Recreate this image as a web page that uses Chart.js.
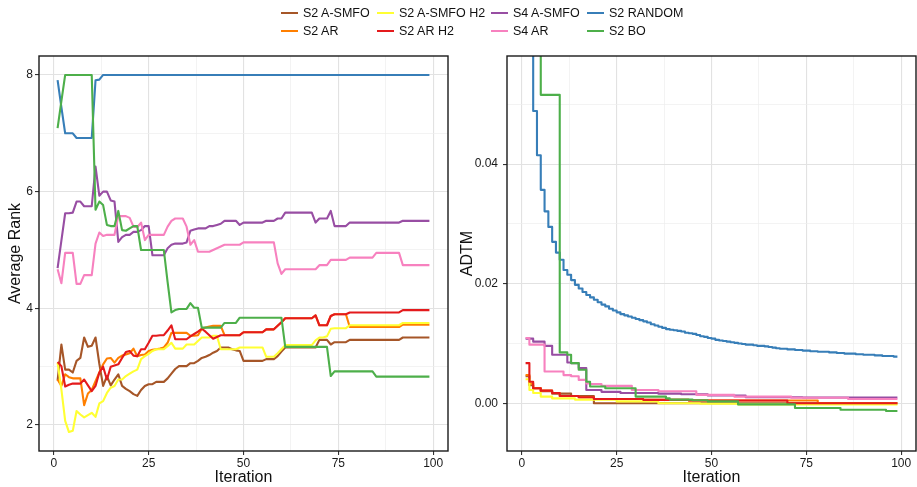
<!DOCTYPE html>
<html>
<head>
<meta charset="utf-8">
<script src="https://cdn.jsdelivr.net/npm/chart.js@4.4.1/dist/chart.umd.min.js"></script>
<style>
  body { margin: 0; background: #fff; font-family: "Liberation Sans", Arial, Helvetica, sans-serif; }
  #wrap { position: relative; width: 917px; height: 487px; overflow: hidden; }
  .panel { position: absolute; top: 0; height: 487px; }
  #legend { position: absolute; left: 0; top: 0; width: 917px; height: 44px; }
  .key { position: absolute; height: 2px; width: 17px; }
  .lab { position: absolute; font-size: 12.5px; color: #111; line-height: 14px; white-space: nowrap; }
</style>
</head>
<body>
<div id="wrap">
  <div class="panel" style="left:0;width:458px"><canvas id="rankChart"></canvas></div>
  <div class="panel" style="left:458px;width:459px"><canvas id="adtmChart"></canvas></div>
  <div id="legend"></div>
</div>
<script>
// Series (legend order, filled by column)
const seriesNames = ["S2 A-SMFO", "S2 AR", "S2 A-SMFO H2", "S2 AR H2", "S4 A-SMFO", "S4 AR", "S2 RANDOM", "S2 BO"];
const seriesColors = ["#A65628", "#FF7F00", "#FFFF33", "#E41A1C", "#984EA3", "#F781BF", "#377EB8", "#4DAF4A"];

// Iterations 1..99
const iterations = Array.from({ length: 99 }, (_, i) => i + 1);

// Average rank (left panel)
const rankA_SMFO = [
  2.76, 3.38, 2.95, 2.95, 2.90, 3.10, 3.15, 3.50, 3.34, 3.36,
  3.50, 3.05, 2.67, 2.84, 2.68, 2.78, 2.87, 2.67, 2.62, 2.58,
  2.53, 2.50, 2.60, 2.67, 2.70, 2.70, 2.74, 2.74, 2.74, 2.80,
  2.88, 2.96, 3.01, 3.01, 3.01, 3.06, 3.06, 3.10, 3.15, 3.17,
  3.20, 3.24, 3.27, 3.33, 3.33, 3.33, 3.30, 3.28, 3.27, 3.10,
  3.10, 3.10, 3.10, 3.10, 3.10, 3.13, 3.13, 3.13, 3.18, 3.26,
  3.33, 3.33, 3.33, 3.33, 3.33, 3.33, 3.33, 3.33, 3.33, 3.46,
  3.46, 3.46, 3.38, 3.42, 3.42, 3.42, 3.42, 3.46, 3.46, 3.46,
  3.46, 3.46, 3.46, 3.46, 3.46, 3.46, 3.46, 3.46, 3.46, 3.46,
  3.46, 3.50, 3.50, 3.50, 3.50, 3.50, 3.50, 3.50, 3.50
];
const rankAR = [
  2.78, 2.67, 2.87, 2.82, 2.80, 2.80, 2.80, 2.34, 2.54, 2.60,
  2.75, 2.90, 3.04, 3.14, 3.15, 3.07, 3.15, 3.19, 3.21, 3.23,
  3.31, 3.18, 3.20, 3.21, 3.27, 3.29, 3.30, 3.31, 3.33, 3.41,
  3.58, 3.58, 3.58, 3.58, 3.58, 3.53, 3.53, 3.54, 3.65, 3.67,
  3.69, 3.70, 3.70, 3.70, 3.54, 3.54, 3.54, 3.54, 3.54, 3.59,
  3.59, 3.59, 3.59, 3.59, 3.59, 3.64, 3.64, 3.64, 3.70, 3.76,
  3.83, 3.83, 3.83, 3.83, 3.83, 3.83, 3.83, 3.83, 3.88, 3.71,
  3.71, 3.71, 3.87, 3.90, 3.90, 3.90, 3.90, 3.68, 3.68, 3.68,
  3.68, 3.68, 3.68, 3.68, 3.68, 3.68, 3.68, 3.68, 3.68, 3.68,
  3.68, 3.72, 3.72, 3.72, 3.72, 3.72, 3.72, 3.72, 3.72
];
const rankA_SMFO_H2 = [
  3.07, 2.61, 2.07, 1.88, 1.90, 2.24, 2.18, 2.13, 2.17, 2.21,
  2.14, 2.37, 2.41, 2.55, 2.64, 2.67, 2.78, 2.78, 2.84, 2.88,
  2.92, 2.95, 3.13, 3.18, 3.22, 3.27, 3.30, 3.30, 3.30, 3.35,
  3.41, 3.31, 3.31, 3.31, 3.38, 3.38, 3.38, 3.44, 3.50, 3.50,
  3.50, 3.53, 3.53, 3.30, 3.30, 3.30, 3.30, 3.30, 3.33, 3.33,
  3.33, 3.33, 3.33, 3.33, 3.33, 3.17, 3.17, 3.17, 3.23, 3.30,
  3.37, 3.37, 3.37, 3.37, 3.37, 3.37, 3.37, 3.37, 3.45, 3.50,
  3.50, 3.52, 3.65, 3.66, 3.66, 3.66, 3.66, 3.71, 3.71, 3.71,
  3.71, 3.71, 3.71, 3.71, 3.71, 3.71, 3.71, 3.71, 3.71, 3.71,
  3.71, 3.75, 3.75, 3.75, 3.75, 3.75, 3.75, 3.75, 3.75
];
const rankAR_H2 = [
  3.08, 3.01, 2.66, 2.69, 2.71, 2.71, 2.71, 2.78, 2.68, 2.58,
  2.67, 2.90, 3.00, 2.78, 3.00, 3.02, 3.04, 3.15, 3.25, 3.27,
  3.19, 3.18, 3.30, 3.30, 3.41, 3.53, 3.53, 3.54, 3.54, 3.62,
  3.71, 3.47, 3.47, 3.47, 3.47, 3.52, 3.56, 3.60, 3.65, 3.60,
  3.54, 3.48, 3.51, 3.54, 3.54, 3.54, 3.54, 3.54, 3.54, 3.59,
  3.59, 3.59, 3.59, 3.59, 3.59, 3.64, 3.64, 3.64, 3.70, 3.76,
  3.83, 3.83, 3.83, 3.83, 3.83, 3.83, 3.83, 3.83, 3.88, 3.71,
  3.71, 3.71, 3.87, 3.90, 3.90, 3.90, 3.90, 3.93, 3.93, 3.93,
  3.93, 3.93, 3.93, 3.93, 3.93, 3.93, 3.93, 3.93, 3.93, 3.93,
  3.93, 3.97, 3.97, 3.97, 3.97, 3.97, 3.97, 3.97, 3.97
];
const rankS4A_SMFO = [
  4.69, 5.16, 5.63, 5.63, 5.64, 5.83, 5.83, 5.75, 5.75, 5.75,
  6.43, 5.93, 6.00, 6.00, 5.85, 5.83, 5.14, 5.22, 5.26, 5.26,
  5.31, 5.31, 5.34, 5.41, 5.41, 4.91, 4.91, 4.91, 4.91, 5.03,
  5.09, 5.11, 5.11, 5.11, 5.13, 5.33, 5.35, 5.37, 5.37, 5.37,
  5.41, 5.41, 5.43, 5.45, 5.50, 5.50, 5.50, 5.50, 5.43, 5.47,
  5.47, 5.47, 5.47, 5.47, 5.47, 5.50, 5.50, 5.50, 5.54, 5.54,
  5.64, 5.64, 5.64, 5.64, 5.64, 5.64, 5.64, 5.64, 5.47, 5.54,
  5.54, 5.54, 5.67, 5.41, 5.41, 5.41, 5.41, 5.47, 5.47, 5.47,
  5.47, 5.47, 5.47, 5.47, 5.47, 5.47, 5.47, 5.47, 5.47, 5.47,
  5.47, 5.50, 5.50, 5.50, 5.50, 5.50, 5.50, 5.50, 5.50
];
const rankS4AR = [
  4.67, 4.43, 4.95, 4.95, 4.95, 4.42, 4.42, 4.57, 4.57, 4.57,
  5.11, 5.30, 5.24, 5.26, 5.26, 5.26, 5.58, 5.58, 5.58, 5.55,
  5.40, 5.39, 5.47, 5.17, 5.26, 5.26, 5.26, 5.26, 5.26, 5.40,
  5.50, 5.54, 5.54, 5.54, 5.40, 5.09, 5.17, 4.97, 4.97, 4.97,
  4.97, 5.00, 5.03, 5.06, 5.09, 5.09, 5.09, 5.09, 5.09, 5.13,
  5.13, 5.13, 5.13, 5.13, 5.13, 5.13, 5.13, 5.13, 4.77, 4.59,
  4.67, 4.67, 4.67, 4.67, 4.67, 4.67, 4.67, 4.67, 4.67, 4.74,
  4.74, 4.74, 4.83, 4.83, 4.83, 4.83, 4.83, 4.87, 4.87, 4.87,
  4.87, 4.87, 4.87, 4.87, 4.95, 4.95, 4.95, 4.95, 4.95, 4.95,
  4.95, 4.74, 4.74, 4.74, 4.74, 4.74, 4.74, 4.74, 4.74
];
const rankRandom = [
  7.91, 7.45, 7.00, 7.00, 7.00, 6.92, 6.92, 6.92, 6.92, 6.92,
  7.91, 7.92, 8, 8, 8, 8, 8, 8, 8, 8,
  8, 8, 8, 8, 8, 8, 8, 8, 8, 8,
  8, 8, 8, 8, 8, 8, 8, 8, 8, 8,
  8, 8, 8, 8, 8, 8, 8, 8, 8, 8,
  8, 8, 8, 8, 8, 8, 8, 8, 8, 8,
  8, 8, 8, 8, 8, 8, 8, 8, 8, 8,
  8, 8, 8, 8, 8, 8, 8, 8, 8, 8,
  8, 8, 8, 8, 8, 8, 8, 8, 8, 8,
  8, 8, 8, 8, 8, 8, 8, 8, 8
];
const rankBO = [
  7.09, 7.55, 8, 8, 8, 8, 8, 8, 8, 8,
  5.69, 5.83, 5.77, 5.43, 5.41, 5.41, 5.67, 5.34, 5.33, 5.37,
  5.41, 5.41, 5.00, 5.00, 5.00, 5.00, 5.00, 5.00, 5.00, 4.45,
  3.93, 3.97, 3.99, 3.99, 3.99, 4.09, 4.01, 4.01, 3.67, 3.67,
  3.67, 3.67, 3.67, 3.67, 3.75, 3.75, 3.75, 3.75, 3.84, 3.84,
  3.84, 3.84, 3.84, 3.84, 3.84, 3.84, 3.84, 3.84, 3.84, 3.84,
  3.34, 3.34, 3.34, 3.34, 3.34, 3.34, 3.34, 3.34, 3.34, 3.34,
  3.34, 3.34, 2.84, 2.92, 2.92, 2.92, 2.92, 2.92, 2.92, 2.92,
  2.92, 2.92, 2.92, 2.92, 2.83, 2.83, 2.83, 2.83, 2.83, 2.83,
  2.83, 2.83, 2.83, 2.83, 2.83, 2.83, 2.83, 2.83, 2.83
];

// ADTM (right panel, step lines)
const adtmA_SMFO = [
  0.0045, 0.0030, 0.0025, 0.0025, 0.0020, 0.0020, 0.0020, 0.0016, 0.0016, 0.0016,
  0.0016, 0.0016, 0.0012, 0.0012, 0.0012, 0.0012, 0.0012, 0.0012, 0, 0,
  0, 0, 0, 0, 0, 0, 0, 0, 0, 0,
  0, 0, 0, 0, 0, 0, 0, 0, 0, 0,
  0, 0, 0, 0, 0, 0, 0, 0, 0, 0,
  0, 0, 0, 0, 0, 0, 0, 0, 0, 0,
  0, 0, 0, 0, 0, 0, 0, 0, 0, 0,
  0, 0, 0, 0, 0, 0, 0, 0, 0, 0,
  0, 0, 0, 0, 0, 0, 0, 0, 0, 0,
  0, 0, 0, 0, 0, 0, 0, 0, 0
];
const adtmAR = [
  0.0047, 0.0033, 0.0025, 0.0025, 0.0021, 0.0021, 0.0021, 0.0017, 0.0017, 0.0012,
  0.0012, 0.0012, 0.0012, 0.0012, 0.0010, 0.0010, 0.0010, 0.0010, 0.0007, 0.0007,
  0.0007, 0.0007, 0.0007, 0.0007, 0.0007, 0.0007, 0.0007, 0.0007, 0.0007, 0.0007,
  0.0007, 0.00056, 0.00056, 0.00056, 0.00056, 0.00056, 0.00056, 0.00056, 0.00056, 0.00056,
  0.00056, 0.00056, 0.00056, 0.00045, 0.00045, 0.00045, 0.00045, 0.00045, 0.00045, 0.00045,
  0.00045, 0.00045, 0.00045, 0.00045, 0.00045, 0.00045, 0.00045, 0.00045, 0.00045, 0.00045,
  0.00045, 0.00045, 0.00045, 0.00045, 0.00045, 0.00045, 0.00045, 0.00045, 0.00045, 0.00045,
  0.00045, 0.00045, 0.00045, 0.00045, 0.00045, 0.00045, 0.00045, 0, 0, 0,
  0, 0, 0, 0, 0, 0, 0, 0, 0, 0,
  0, 0, 0, 0, 0, 0, 0, 0, 0
];
const adtmA_SMFO_H2 = [
  0.0040, 0.0022, 0.0017, 0.0017, 0.0011, 0.0011, 0.0011, 0.0008, 0.0008, 0.0008,
  0.0008, 0.0008, 0.0008, 0.0006, 0.0006, 0.0006, 0.0006, 0.0006, 0.0006, 0.0006,
  0.0006, 0.0006, 0.0006, 0.0006, 0.0003, 0.0003, 0.0003, 0.0003, 0.0003, 0.0003,
  0.0003, 0.0003, 0.0003, 0.0003, 0.0003, 0, 0, 0, 0, 0,
  0, 0, 0, 0, 0, 0, -0.0001, -0.0001, -0.0001, -0.0001,
  -0.0001, -0.0001, -0.0001, -0.0001, -0.0001, -0.0001, -0.0002, -0.0002, -0.0002, -0.0002,
  -0.0002, -0.0002, -0.0002, -0.0002, -0.0002, -0.0002, -0.0002, -0.0002, -0.0002, -0.0002,
  -0.0002, -0.0002, -0.0002, -0.0002, -0.0002, -0.0002, -0.0002, -0.0002, -0.0002, -0.0002,
  -0.0002, -0.0002, -0.0002, -0.0002, -0.0002, -0.0002, -0.0002, -0.0002, -0.0002, -0.0002,
  -0.0002, -0.0002, -0.0002, -0.0002, -0.0002, -0.0002, -0.0002, -0.0002, -0.0002
];
const adtmAR_H2 = [
  0.0067, 0.0036, 0.0025, 0.0025, 0.0021, 0.0021, 0.0021, 0.0017, 0.0017, 0.0012,
  0.0012, 0.0012, 0.0012, 0.0012, 0.0010, 0.0010, 0.0010, 0.0010, 0.0007, 0.0007,
  0.0007, 0.0007, 0.0007, 0.0007, 0.0007, 0.0007, 0.0007, 0.0007, 0.0007, 0.0007,
  0.0007, 0.00056, 0.00056, 0.00056, 0.00056, 0.00056, 0.00056, 0.00056, 0.00056, 0.00056,
  0.00056, 0.00056, 0.00056, 0.00045, 0.00045, 0.00045, 0.00045, 0.00045, 0.00045, 0.00045,
  0.00045, 0.00045, 0.00045, 0.00045, 0.00045, 0.00045, 0.00045, 0.00045, 0.00045, 0.00045,
  0.00045, 0.00045, 0.00045, 0.00045, 0.00045, 0.00045, 0.00045, 0.00045, 0.00045, 0,
  0, 0, 0, 0, 0, 0, 0, 0, 0, 0,
  0, 0, 0, 0, 0, 0, 0, 0, 0, 0,
  0, 0, 0, 0, 0, 0, 0, 0, 0
];
const adtmS4A_SMFO = [
  0.0108, 0.0108, 0.0103, 0.0103, 0.0103, 0.0096, 0.0096, 0.0081, 0.0081, 0.0081,
  0.0081, 0.0068, 0.0067, 0.0067, 0.0059, 0.0059, 0.0022, 0.0022, 0.0022, 0.0022,
  0.0019, 0.0019, 0.0019, 0.0019, 0.0019, 0.0017, 0.0017, 0.0017, 0.0017, 0.0017,
  0.0017, 0.0017, 0.0017, 0.0017, 0.0017, 0.0016, 0.0016, 0.0016, 0.0016, 0.0016,
  0.0016, 0.0015, 0.0015, 0.0015, 0.0015, 0.0015, 0.0015, 0.0015, 0.0013, 0.0013,
  0.0013, 0.0013, 0.0013, 0.0013, 0.0013, 0.0013, 0.0013, 0.0013, 0.0010, 0.0010,
  0.0010, 0.0010, 0.0010, 0.0010, 0.0010, 0.0010, 0.0010, 0.0010, 0.0010, 0.0010,
  0.0010, 0.0010, 0.0010, 0.00095, 0.00095, 0.00095, 0.00095, 0.00095, 0.00095, 0.00095,
  0.00095, 0.00095, 0.00095, 0.00095, 0.00095, 0.00095, 0.00095, 0.00095, 0.00095, 0.00095,
  0.00095, 0.00095, 0.00095, 0.00095, 0.00095, 0.00095, 0.00095, 0.00095, 0.00095
];
const adtmS4AR = [
  0.0109, 0.0098, 0.0098, 0.0098, 0.0098, 0.0053, 0.0053, 0.0053, 0.0053, 0.0053,
  0.0047, 0.0047, 0.0045, 0.0045, 0.0039, 0.0039, 0.0033, 0.0032, 0.0032, 0.0032,
  0.0029, 0.0029, 0.0029, 0.0029, 0.0029, 0.0029, 0.0029, 0.0029, 0.0022, 0.0022,
  0.0022, 0.0022, 0.0022, 0.0022, 0.0022, 0.0020, 0.0020, 0.0020, 0.0020, 0.0020,
  0.0020, 0.0020, 0.0020, 0.0020, 0.0020, 0.0014, 0.0014, 0.0014, 0.0014, 0.0014,
  0.0014, 0.0014, 0.0014, 0.0014, 0.0014, 0.0011, 0.0011, 0.0011, 0.0011, 0.0011,
  0.0011, 0.0011, 0.0011, 0.0011, 0.0011, 0.0011, 0.0011, 0.0011, 0.0011, 0.0011,
  0.0009, 0.0009, 0.0009, 0.0009, 0.0009, 0.0009, 0.0009, 0.0009, 0.0009, 0.0009,
  0.0009, 0.0009, 0.0009, 0.0009, 0.0009, 0.0007, 0.0007, 0.0007, 0.0007, 0.0007,
  0.0007, 0.0007, 0.0007, 0.0007, 0.0007, 0.0007, 0.0007, 0.0007, 0.0007
];
const adtmRandom = [
  0.095, 0.070, 0.0489, 0.0415, 0.0357, 0.0321, 0.0295, 0.0270, 0.0252, 0.0240,
  0.0223, 0.0215, 0.0206, 0.0198, 0.0192, 0.0186, 0.0181, 0.0177, 0.0173, 0.0169,
  0.0165, 0.0162, 0.0158, 0.0155, 0.0152, 0.0149, 0.0147, 0.0145, 0.0143, 0.0141,
  0.0139, 0.0137, 0.0135, 0.0132, 0.0130, 0.0128, 0.0126, 0.0124, 0.0123, 0.0122,
  0.0121, 0.0120, 0.0118, 0.0117, 0.0116, 0.0114, 0.0112, 0.0111, 0.0109, 0.0108,
  0.0106, 0.0105, 0.0104, 0.0103, 0.0102, 0.0101, 0.0100, 0.0099, 0.0098, 0.0098,
  0.0097, 0.0096, 0.0096, 0.0095, 0.0094, 0.0093, 0.0092, 0.0091, 0.0091, 0.0090,
  0.0090, 0.0089, 0.0089, 0.0088, 0.0088, 0.0087, 0.0087, 0.0086, 0.0086, 0.0086,
  0.0085, 0.0085, 0.0084, 0.0084, 0.0083, 0.0083, 0.0083, 0.0082, 0.0082, 0.0081,
  0.0081, 0.0081, 0.0080, 0.0080, 0.0079, 0.0079, 0.0079, 0.0078, 0.0078
];
const adtmBO = [
  0.080, 0.080, 0.080, 0.080, 0.0516, 0.0516, 0.0516, 0.0516, 0.0516, 0.0085,
  0.0085, 0.0081, 0.0067, 0.0067, 0.0056, 0.0056, 0.0036, 0.0028, 0.0028, 0.0028,
  0.0028, 0.0025, 0.0025, 0.0025, 0.0025, 0.0025, 0.0025, 0.0025, 0.0025, 0.0011,
  0.0011, 0.0011, 0.0011, 0.0011, 0.0011, 0.0011, 0.0011, 0.0008, 0.0006, 0.0006,
  0.0006, 0.0006, 0.0006, 0.0006, 0.0005, 0.0005, 0.0005, 0.0005, 0.0003, 0.0003,
  0.0003, 0.0003, 0.0003, 0.0003, 0.0003, 0.0003, -0.0002, -0.0002, -0.0002, -0.0002,
  -0.0002, -0.0002, -0.0002, -0.0002, -0.0002, -0.0002, -0.0002, -0.0002, -0.0002, -0.0002,
  -0.0002, -0.0008, -0.0008, -0.0008, -0.0008, -0.0008, -0.0008, -0.0008, -0.0008, -0.0008,
  -0.0008, -0.0008, -0.0008, -0.0011, -0.0011, -0.0011, -0.0011, -0.0011, -0.0011, -0.0011,
  -0.0011, -0.0011, -0.0011, -0.0011, -0.0011, -0.0013, -0.0013, -0.0013, -0.0013
];

const rankSeries = [rankA_SMFO, rankAR, rankA_SMFO_H2, rankAR_H2, rankS4A_SMFO, rankS4AR, rankRandom, rankBO];
const adtmSeries = [adtmA_SMFO, adtmAR, adtmA_SMFO_H2, adtmAR_H2, adtmS4A_SMFO, adtmS4AR, adtmRandom, adtmBO];

// Tick values
const xMajor = [0, 25, 50, 75, 100];
const xMinor = [12.5, 37.5, 62.5, 87.5];
const rankMajor = [2, 4, 6, 8];
const rankMinor = [3, 5, 7];
const adtmMajor = [0, 0.02, 0.04];
const adtmMinor = [0.01, 0.03, 0.05];

const FONT = "'Liberation Sans', Arial, Helvetica, sans-serif";

// Legend (2 rows, filled by column)
const legendCols = [281, 377, 491, 587];
const legendRows = [13, 31];
const legend = document.getElementById("legend");
seriesNames.forEach((name, i) => {
  const col = Math.floor(i / 2), row = i % 2;
  const key = document.createElement("div");
  key.className = "key";
  key.style.left = legendCols[col] + "px";
  key.style.top = (legendRows[row] - 1) + "px";
  key.style.background = seriesColors[i];
  legend.appendChild(key);
  const lab = document.createElement("div");
  lab.className = "lab";
  lab.style.left = (legendCols[col] + 22) + "px";
  lab.style.top = (legendRows[row] - 7) + "px";
  lab.textContent = name;
  legend.appendChild(lab);
});

// ggplot-like panel border
const panelBorder = {
  id: "panelBorder",
  afterDatasetsDraw(chart) {
    const { ctx, chartArea: a } = chart;
    ctx.save();
    ctx.strokeStyle = "#1a1a1a";
    ctx.lineWidth = 1.4;
    ctx.strokeRect(a.left, a.top, a.right - a.left, a.bottom - a.top);
    ctx.restore();
  },
};

function makeAxis(major, minor, min, max, fmt, pad, extra) {
  const majorSet = new Set(major);
  return Object.assign({
    type: "linear",
    min: min,
    max: max,
    afterBuildTicks: (scale) => {
      scale.ticks = major.concat(minor).sort((a, b) => a - b).map((v) => ({ value: v }));
    },
    border: { display: false },
    grid: {
      color: (c) => (majorSet.has(c.tick.value) ? "#e2e2e2" : "#eeeeee"),
      lineWidth: (c) => (majorSet.has(c.tick.value) ? 1.1 : 0.7),
      tickColor: (c) => (majorSet.has(c.tick.value) ? "#333" : "rgba(0,0,0,0)"),
      tickLength: 4,
      drawTicks: true,
    },
    ticks: {
      autoSkip: false,
      maxRotation: 0,
      padding: pad,
      color: "#1a1a1a",
      font: { family: FONT, size: 12 },
      callback: (v) => (majorSet.has(v) ? fmt(v) : ""),
    },
  }, extra);
}

function buildChart(canvasId, series, yCfg, stepped, padRight) {
  // BO drawn on top, like ggplot (last factor level on top)
  const datasets = series.map((vals, i) => ({
    label: seriesNames[i],
    data: vals.map((v, k) => ({ x: iterations[k], y: v })),
    borderColor: seriesColors[i],
    backgroundColor: seriesColors[i],
    borderWidth: 2.1,
    pointRadius: 0,
    tension: 0,
    stepped: stepped,
    borderJoinStyle: "round",
    fill: false,
  })).reverse();

  return new Chart(document.getElementById(canvasId).getContext("2d"), {
    type: "line",
    data: { datasets: datasets },
    plugins: [panelBorder],
    options: {
      responsive: true,
      maintainAspectRatio: false,
      animation: false,
      devicePixelRatio: 1,
      layout: { padding: { top: 56, right: padRight, left: 0, bottom: 0 } },
      plugins: { legend: { display: false }, tooltip: { enabled: false } },
      scales: {
        x: makeAxis(xMajor, xMinor, -3.9, 103.9, (v) => String(v), 1, {
          afterFit: (s) => { s.height = 36; },
          title: {
            display: true, text: "Iteration", color: "#111",
            font: { family: FONT, size: 16 }, padding: { top: 0, bottom: 0 },
          },
        }),
        y: yCfg,
      },
    },
  });
}

const rankY = makeAxis(rankMajor, rankMinor, 1.555, 8.325, (v) => String(v), 2, {
  afterFit: (s) => { s.width = 39; },
  title: {
    display: true, text: "Average Rank", color: "#111",
    font: { family: FONT, size: 16 }, padding: { top: 6, bottom: 6 },
  },
});
const adtmY = makeAxis(adtmMajor, adtmMinor, -0.008, 0.0581, (v) => v.toFixed(2), 5, {
  afterFit: (s) => { s.width = 49; },
  title: {
    display: true, text: "ADTM", color: "#111",
    font: { family: FONT, size: 16 }, padding: { top: 0, bottom: 0 },
  },
});

buildChart("rankChart", rankSeries, rankY, false, 10);
buildChart("adtmChart", adtmSeries, adtmY, true, 1);
</script>
</body>
</html>
